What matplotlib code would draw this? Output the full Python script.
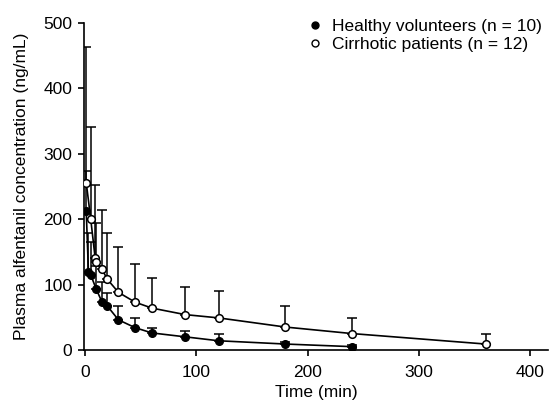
import numpy as np
import matplotlib.pyplot as plt
from matplotlib.lines import Line2D

plt.rcParams['font.family'] = ['Liberation Sans', 'DejaVu Sans']

# healthy volunteers (n = 10)
t_healthy = [1, 3, 5, 10, 15, 20, 30, 45, 60, 90, 120, 180, 240]
c_healthy = [213, 119, 115, 93, 74, 67, 46, 34, 26, 20, 14, 9, 5]
sd_healthy = [60, 60, 50, 35, 30, 20, 21, 15, 8, 9, 10, 3, 3]

# cirrhotic patients (n = 12)
t_cirr = [1, 5, 9, 10, 15, 20, 30, 45, 60, 90, 120, 180, 240, 360]
c_cirr = [256, 201, 141, 134, 124, 108, 88, 73, 64, 54, 49, 35, 25, 9]
sd_cirr = [207, 140, 111, 60, 90, 71, 70, 58, 46, 42, 41, 32, 24, 15]

xticks = [0, 100, 200, 300, 400]
yticks = [0, 100, 200, 300, 400, 500]

fig = plt.figure(figsize=(5.49, 4.05), dpi=100)
ax = fig.add_axes([0.153, 0.136, 0.845, 0.807])

# upper error bars only
ax.errorbar(t_cirr, c_cirr, yerr=[np.zeros(len(sd_cirr)), sd_cirr], fmt='none',
            ecolor='black', elinewidth=1.1, capsize=3.5, capthick=1.1, zorder=2)
ax.errorbar(t_healthy, c_healthy, yerr=[np.zeros(len(sd_healthy)), sd_healthy], fmt='none',
            ecolor='black', elinewidth=1.1, capsize=3.5, capthick=1.1, zorder=2)

ax.plot(t_cirr, c_cirr, '-o', color='black', lw=1.2, markersize=5.5,
        markerfacecolor='white', markeredgecolor='black', markeredgewidth=1.1, zorder=3)
ax.plot(t_healthy, c_healthy, '-o', color='black', lw=1.2, markersize=5.5,
        markerfacecolor='black', markeredgecolor='black', zorder=4)

ax.set_xlim(-1, 416)
ax.set_ylim(0, 500)
ax.set_xticks(xticks)
ax.set_yticks(yticks)
ax.spines['top'].set_visible(False)
ax.spines['right'].set_visible(False)
ax.spines['left'].set_linewidth(1.2)
ax.spines['bottom'].set_linewidth(1.2)
ax.tick_params(direction='out', length=4.5, width=1.2, labelsize=12.5, pad=4)
ax.tick_params(axis='x', pad=6)

ax.set_xlabel('Time (min)', fontsize=12.5, labelpad=4)
ax.set_ylabel('Plasma alfentanil concentration (ng/mL)', fontsize=12.5, labelpad=10)

handles = [
    Line2D([], [], ls='none', marker='o', color='black', markersize=5),
    Line2D([], [], ls='none', marker='o', markerfacecolor='white',
           markeredgecolor='black', markersize=5),
]
ax.legend(handles, ['Healthy volunteers (n = 10)', 'Cirrhotic patients (n = 12)'],
          loc='upper right', bbox_to_anchor=(1.01, 1.045), frameon=False, fontsize=12.5,
          handletextpad=0.4, handlelength=1.2, labelspacing=0.15, borderaxespad=0.2)

fig.savefig('out.png', dpi=100)
